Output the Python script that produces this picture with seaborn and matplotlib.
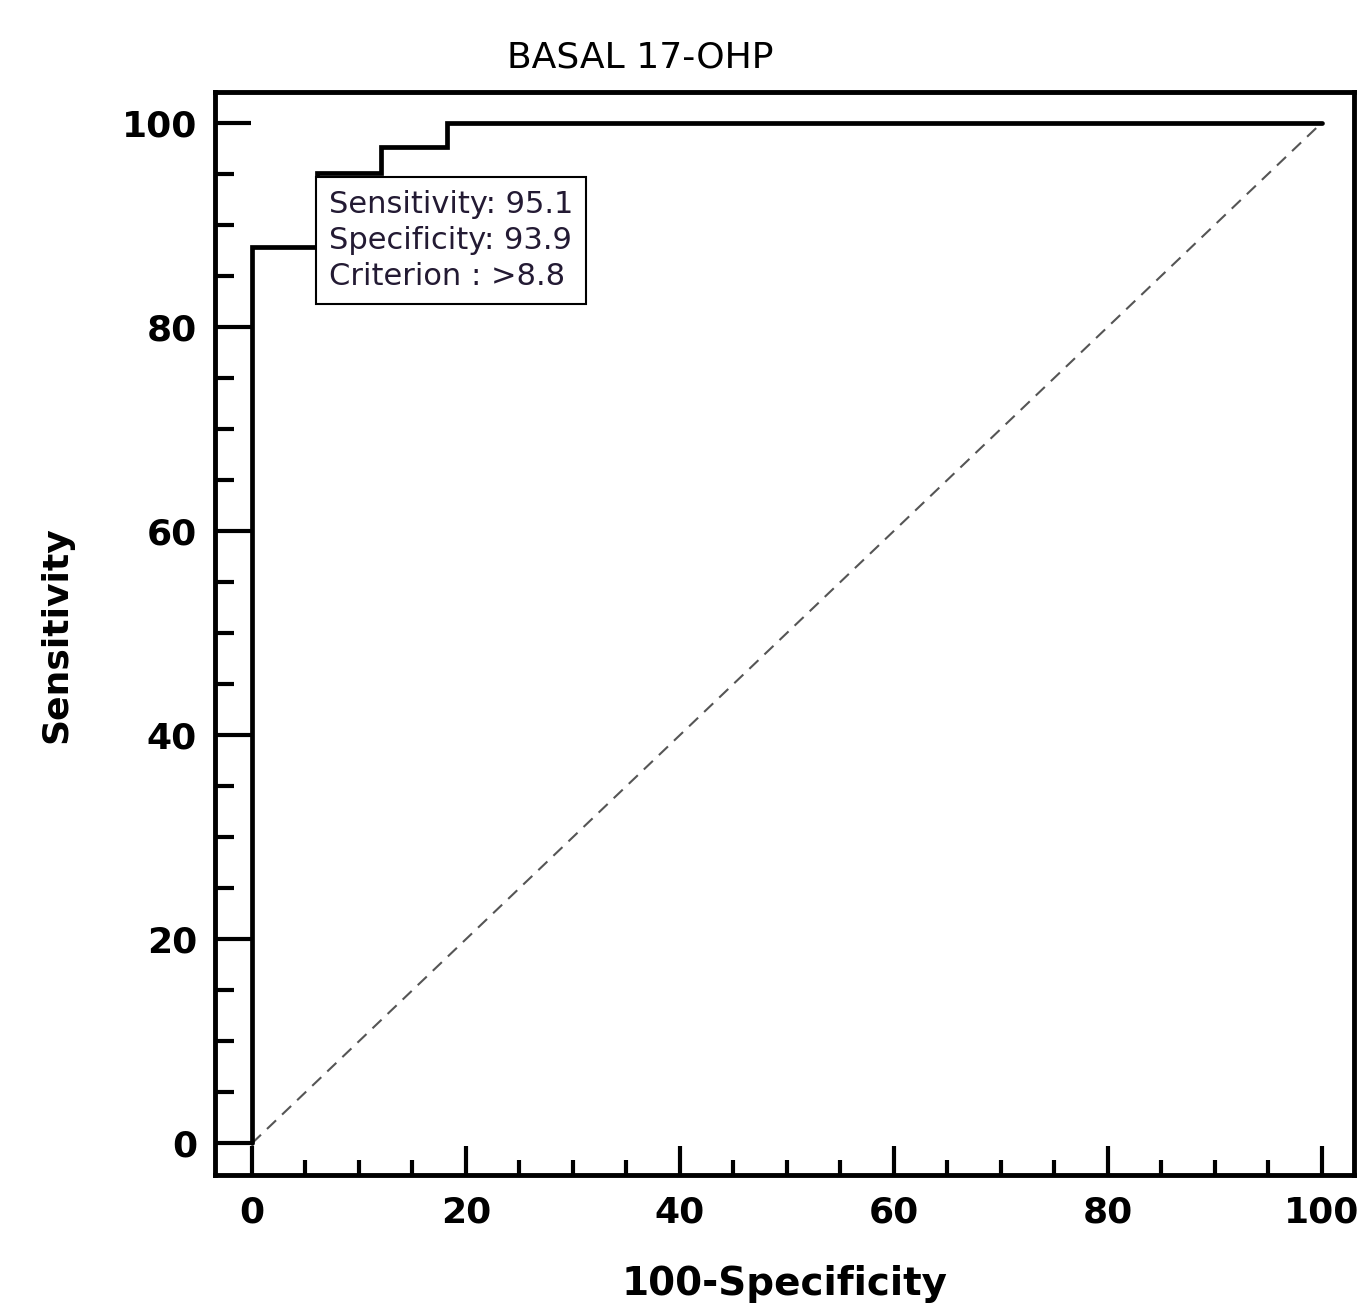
import matplotlib
matplotlib.use("Agg")
import matplotlib.pyplot as plt
from matplotlib.ticker import MultipleLocator
import seaborn as sns

# ROC curve points (100-Specificity, Sensitivity)
fpr = [0, 0, 6.1, 6.1, 12.1, 12.1, 18.2, 18.2, 100]
tpr = [0, 87.8, 87.8, 95.1, 95.1, 97.6, 97.6, 100, 100]
ref_line = [0, 100]
major_ticks = [0, 20, 40, 60, 80, 100]

title = "BASAL 17-OHP"
box_text = "Sensitivity: 95.1\nSpecificity: 93.9\nCriterion : >8.8"

sns.set_style("ticks")
plt.rcParams["font.family"] = ["DejaVu Sans"]
plt.rcParams["text.color"] = "black"
plt.rcParams["xtick.color"] = "black"
plt.rcParams["ytick.color"] = "black"

W, H = 1357, 1303
fig = plt.figure(figsize=(W / 100, H / 100), dpi=100)
ax = fig.add_axes([215 / W, 1 - 1175 / H, (1354 - 215) / W, (1175 - 92) / H])

# chance line
sns.lineplot(x=ref_line, y=ref_line, ax=ax, color="#555555", lw=1.5,
             dashes=False, linestyle=(0, (6, 4)))
# ROC curve
sns.lineplot(x=fpr, y=tpr, ax=ax, sort=False, estimator=None, color="black",
             lw=3.4, solid_joinstyle="miter")

ax.set_xlim(-3.45, 103.0)
ax.set_ylim(-3.1, 103.0)
ax.set_xticks(major_ticks)
ax.set_yticks(major_ticks)
ax.xaxis.set_minor_locator(MultipleLocator(5))
ax.yaxis.set_minor_locator(MultipleLocator(5))

for side in ["left", "right", "top", "bottom"]:
    ax.spines[side].set_visible(True)
    ax.spines[side].set_linewidth(3.5)
    ax.spines[side].set_color("black")

ax.tick_params(axis="x", which="major", direction="in", length=21, width=3,
               labelsize=26, pad=15, colors="black")
ax.tick_params(axis="x", which="minor", direction="in", length=11, width=3,
               colors="black")
ax.tick_params(axis="y", which="major", direction="in", length=26, width=3,
               labelsize=26, pad=13, colors="black")
ax.tick_params(axis="y", which="minor", direction="in", length=14, width=3,
               colors="black")
for lbl in ax.get_xticklabels() + ax.get_yticklabels():
    lbl.set_fontweight("bold")

ax.set_xlabel("")
ax.set_ylabel("")

# criterion box
ax.text(7.2, 93.4, box_text, ha="left", va="top", fontsize=22,
        color="#231a33", linespacing=1.3, zorder=5,
        bbox=dict(boxstyle="square,pad=0.42", fc="white", ec="black", lw=1.5))

fig.text(640 / W, 1 - 68 / H, title, ha="center", va="baseline", fontsize=26,
         color="black")
fig.text(785 / W, 1 - 1295 / H, "100-Specificity", ha="center", va="baseline",
         fontsize=28, fontweight="bold", color="black")
fig.text(56 / W, 1 - 635 / H, "Sensitivity", ha="center", va="center",
         rotation=90, fontsize=26, fontweight="bold", color="black")

fig.savefig("out.png", dpi=100)
plt.close(fig)
